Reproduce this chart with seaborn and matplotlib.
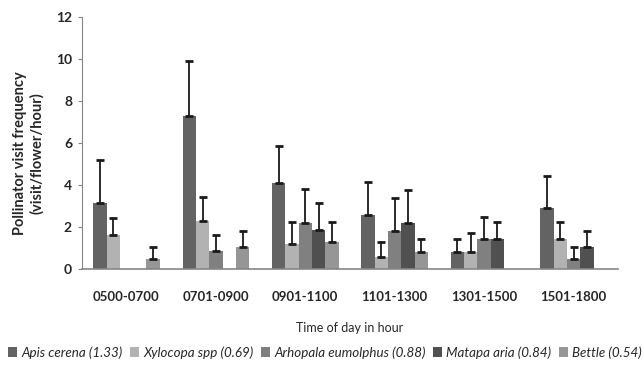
import matplotlib
matplotlib.use('Agg')
import matplotlib.pyplot as plt
import numpy as np
import pandas as pd
import seaborn as sns

periodos = ['0500-0700', '0701-0900', '0901-1100', '1101-1300', '1301-1500', '1501-1800']
especies = ['Apis cerena (1.33)', 'Xylocopa spp (0.69)', 'Arhopala eumolphus (0.88)',
            'Matapa aria (0.84)', 'Bettle (0.54)']
cores = ['#636363', '#b2b2b2', '#808080', '#505050', '#969696']

# media por periodo (nan = sem visita)
apis = [3.15, 7.3, 4.1, 2.57, 0.81, 2.9]
xylocopa = [1.62, 2.29, 1.19, 0.57, 0.81, 1.43]
arhopala = [np.nan, 0.86, 2.19, 1.81, 1.43, 0.48]
matapa = [np.nan, np.nan, 1.86, 2.19, 1.43, 1.05]
bettle = [0.48, 1.05, 1.29, 0.81, np.nan, np.nan]

# limite superior das barras de erro
apis_sup = [5.2, 9.9, 5.86, 4.14, 1.43, 4.43]
xylocopa_sup = [2.43, 3.45, 2.24, 1.29, 1.71, 2.24]
arhopala_sup = [np.nan, 1.62, 3.83, 3.38, 2.48, 1.05]
matapa_sup = [np.nan, np.nan, 3.14, 3.76, 2.24, 1.81]
bettle_sup = [1.05, 1.8, 2.24, 1.43, np.nan, np.nan]

medias = [apis, xylocopa, arhopala, matapa, bettle]
superiores = [apis_sup, xylocopa_sup, arhopala_sup, matapa_sup, bettle_sup]

linhas = []
for esp, vals, sups in zip(especies, medias, superiores):
    for per, v, s in zip(periodos, vals, sups):
        linhas.append({'Periodo': per, 'Especie': esp, 'Freq': v, 'Sup': s})
df = pd.DataFrame(linhas)

sns.set_style('white')
plt.rcParams['font.family'] = ['Lato', 'DejaVu Sans']

fig = plt.figure(figsize=(6.44, 3.65), dpi=100)
ax = fig.add_axes([0.127, 0.263, 0.833, 0.69])

sns.barplot(data=df.dropna(subset=['Freq']), x='Periodo', y='Freq', hue='Especie',
            order=periodos, hue_order=especies, palette=cores, errorbar=None,
            width=0.745, gap=0, saturation=1, linewidth=0, ax=ax)

# barras de erro so para cima
for cont, esp in zip(ax.containers, especies):
    sub = df[df['Especie'] == esp].set_index('Periodo')
    for barra in cont:
        xc = barra.get_x() + barra.get_width() / 2
        per = periodos[int(round(xc))]
        topo = sub.loc[per, 'Freq']
        sup = sub.loc[per, 'Sup']
        if np.isnan(sup):
            continue
        ax.errorbar(xc, topo, yerr=[[0], [sup - topo]], fmt='none', ecolor='#1a1a1a',
                    elinewidth=1.3, capsize=3, capthick=2)

ax.set_ylim(0, 12)
ax.set_yticks(range(0, 13, 2))
ax.set_xlim(-0.5, len(periodos) - 0.5)
ax.tick_params(axis='y', left=True, length=3, color='#868686', labelsize=10, pad=4)
ax.tick_params(axis='x', bottom=False, labelsize=9.5, pad=12)
for t in ax.get_xticklabels() + ax.get_yticklabels():
    t.set_fontweight('bold')

for lado in ['top', 'right']:
    ax.spines[lado].set_visible(False)
ax.spines['left'].set_color('#868686')
ax.spines['bottom'].set_color('#868686')
ax.spines['left'].set_linewidth(0.8)
ax.spines['bottom'].set_linewidth(1.2)

ax.set_ylabel('Pollinator visit frequency\n(visit/flower/hour)', fontsize=10.5,
              fontweight='bold')
ax.yaxis.set_label_coords(-0.07, 0.46)
ax.set_xlabel('Time of day in hour', fontsize=9, labelpad=14)

ax.legend(loc='upper center', bbox_to_anchor=(0.453, -0.285), ncol=5, frameon=False,
          prop={'style': 'italic', 'size': 9.6}, handlelength=0.7, handleheight=0.7,
          handletextpad=0.3, columnspacing=0.55, borderaxespad=0)

fig.savefig('out.png', dpi=100)
